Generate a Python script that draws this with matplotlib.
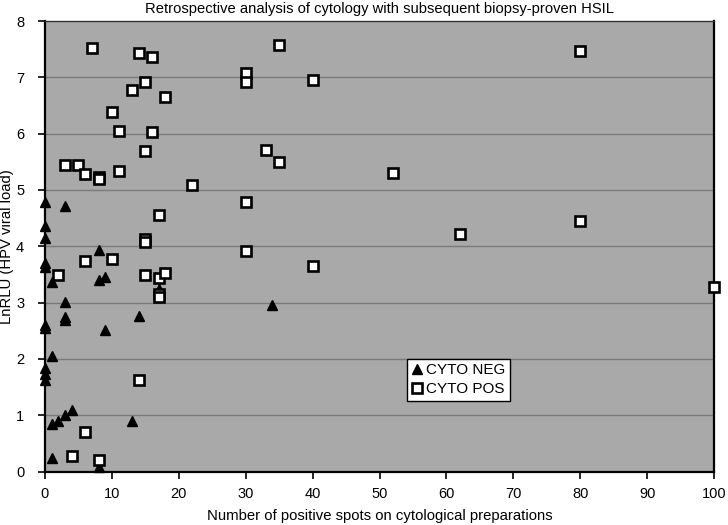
import matplotlib.pyplot as plt

plt.rcParams['font.family'] = ['Liberation Sans', 'DejaVu Sans']

# --- Daten ---
neg_x = [0, 3, 0, 0, 8, 0, 0, 1, 8, 9, 17, 3, 3, 3, 14, 9, 0, 0, 1, 0, 0, 0,
         4, 3, 2, 1, 13, 1, 8, 34]
neg_y = [4.79, 4.72, 4.36, 4.14, 3.94, 3.70, 3.63, 3.37, 3.40, 3.46, 3.25, 3.01,
         2.75, 2.69, 2.76, 2.51, 2.61, 2.54, 2.06, 1.83, 1.73, 1.62,
         1.10, 1.01, 0.90, 0.85, 0.89, 0.24, 0.08, 2.95]

pos_x = [7, 14, 16, 35, 80, 30, 30, 15, 13, 40, 18, 10, 11, 16, 15, 33, 35,
         3, 5, 6, 8, 8, 11, 22, 52, 30, 17, 15, 15, 30, 62, 80,
         6, 10, 2, 15, 17, 18, 17, 17, 40, 100, 14, 6, 4, 8]
pos_y = [7.53, 7.44, 7.36, 7.58, 7.46, 7.07, 6.92, 6.92, 6.77, 6.96, 6.66, 6.39,
         6.04, 6.03, 5.69, 5.71, 5.49, 5.45, 5.45, 5.28, 5.23, 5.19, 5.33, 5.08,
         5.30, 4.79, 4.56, 4.13, 4.08, 3.92, 4.21, 4.45,
         3.74, 3.77, 3.49, 3.49, 3.44, 3.52, 3.15, 3.10, 3.65, 3.27, 1.63, 0.70,
         0.27, 0.21]

x_ticks = list(range(0, 101, 10))
y_ticks = list(range(0, 9))

# --- Plot ---
fig = plt.figure(figsize=(7.28, 5.25), dpi=100)
ax = fig.add_axes([0.0618, 0.1019, 0.919, 0.858])
ax.set_facecolor('#a9a9a9')

for y in y_ticks[1:-1]:
    ax.axhline(y, color='#7a7a7a', lw=1.0, zorder=1)

ax.plot(neg_x, neg_y, linestyle='none', marker='^', ms=7.5, color='black',
        clip_on=False, zorder=3, label='CYTO NEG')
ax.plot(pos_x, pos_y, linestyle='none', marker='s', ms=6.5, mfc='white',
        mec='black', mew=1.9, clip_on=False, zorder=4, label='CYTO POS')

ax.set_xlim(0, 100)
ax.set_ylim(0, 8)
ax.set_xticks(x_ticks)
ax.set_yticks(y_ticks)
ax.tick_params(direction='out', length=5, width=1.2, labelsize=10.5)
ax.tick_params(axis='x', pad=6)
ax.tick_params(axis='y', pad=10)

for side in ['left', 'bottom', 'right']:
    ax.spines[side].set_linewidth(1.6)
ax.spines['top'].set_linewidth(1.0)
ax.spines['top'].set_color('#333333')

ax.set_title('Retrospective analysis of cytology with subsequent biopsy-proven HSIL',
             fontsize=10.6, pad=6)
ax.set_xlabel('Number of positive spots on cytological preparations', fontsize=10.7,
              labelpad=6)
ax.set_ylabel('LnRLU (HPV viral load)', fontsize=10.7)
ax.yaxis.set_label_coords(-0.046, 0.5)

leg = ax.legend(loc='upper left', bbox_to_anchor=(0.541, 0.25), fontsize=11,
                frameon=True, fancybox=False, framealpha=1, edgecolor='black',
                handlelength=0.7, handletextpad=0.25, borderpad=0.3,
                labelspacing=0.3, borderaxespad=0, numpoints=1)
leg.get_frame().set_linewidth(1.0)

plt.savefig('out.png', dpi=100)
